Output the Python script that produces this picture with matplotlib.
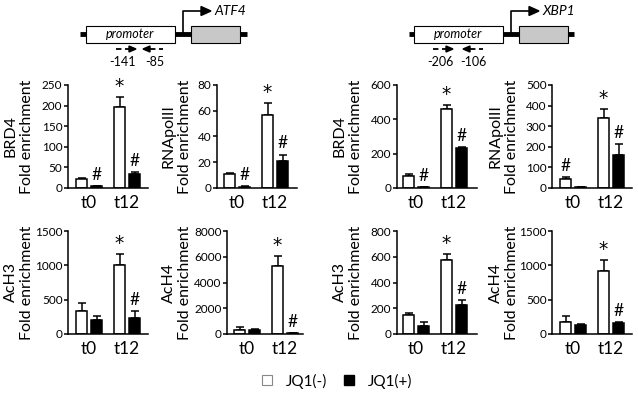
import matplotlib.pyplot as plt
from matplotlib.lines import Line2D
from matplotlib.patches import Rectangle, Polygon

plt.rcParams['font.family'] = ['Lato', 'DejaVu Sans']

W, H = 638, 403

# values: [t0 JQ1(-), t0 JQ1(+), t12 JQ1(-), t12 JQ1(+)]
atf4_brd4 = [23, 4, 197, 35]
atf4_brd4_err = [1, 0.5, 25, 3]
atf4_pol = [10.5, 1, 57, 21]
atf4_pol_err = [1.5, 0.2, 9, 5]
atf4_ach3 = [330, 205, 1000, 230]
atf4_ach3_err = [125, 55, 160, 105]
atf4_ach4 = [300, 330, 5300, 50]
atf4_ach4_err = [250, 40, 750, 50]

xbp1_brd4 = [72, 5, 460, 235]
xbp1_brd4_err = [10, 1, 25, 5]
xbp1_pol = [42, 3, 340, 162]
xbp1_pol_err = [10, 1, 45, 52]
xbp1_ach3 = [150, 65, 575, 228]
xbp1_ach3_err = [10, 30, 45, 38]
xbp1_ach4 = [180, 135, 915, 155]
xbp1_ach4_err = [80, 15, 160, 25]

groups = ['t0', 't12']
legend_labels = ['JQ1(-)', 'JQ1(+)']

# panel: (values, errors, ylabel, yticks, marks, axis x0, first bar, axis x1, y top, y zero, label x)
panels = [
    (atf4_brd4, atf4_brd4_err, 'BRD4', [0, 50, 100, 150, 200, 250],
     [None, '#', '*', '#'], 68, 76, 148, 85, 188, 19),
    (atf4_pol, atf4_pol_err, 'RNApolII', [0, 20, 40, 60, 80],
     [None, '#', '*', '#'], 217, 224, 297, 85, 188, 177),
    (xbp1_brd4, xbp1_brd4_err, 'BRD4', [0, 200, 400, 600],
     [None, '#', '*', '#'], 397, 403, 477, 85, 188, 348),
    (xbp1_pol, xbp1_pol_err, 'RNApolII', [0, 100, 200, 300, 400, 500],
     ['#', None, '*', '#'], 552, 560, 632, 85, 188, 504),
    (atf4_ach3, atf4_ach3_err, 'AcH3', [0, 500, 1000, 1500],
     [None, None, '*', '#'], 68, 76, 148, 231, 334, 19),
    (atf4_ach4, atf4_ach4_err, 'AcH4', [0, 2000, 4000, 6000, 8000],
     [None, None, '*', '#'], 227, 234, 303, 231, 334, 177),
    (xbp1_ach3, xbp1_ach3_err, 'AcH3', [0, 200, 400, 600, 800],
     [None, None, '*', '#'], 397, 403, 477, 231, 334, 348),
    (xbp1_ach4, xbp1_ach4_err, 'AcH4', [0, 500, 1000, 1500],
     [None, None, '*', '#'], 552, 560, 632, 231, 334, 504),
]

fig = plt.figure(figsize=(W / 100, H / 100), dpi=100)

# bar layout in pixels from the first bar's left edge
centers = [5.5, 20.5, 43.5, 58.5]
colors = ['white', 'black', 'white', 'black']

for vals, errs, name, yt, marks, x0, xb, x1, ytop, yzero, lx in panels:
    ax = fig.add_axes([x0 / W, 1 - yzero / H, (x1 - x0) / W, (yzero - ytop) / H])
    ax.bar(centers, vals, width=11, color=colors, edgecolor='black', linewidth=1.1, zorder=2)
    for c, v, e in zip(centers, vals, errs):
        ax.errorbar(c, v, yerr=[[0], [e]], color='black', capsize=3, elinewidth=1.1,
                    capthick=1.1, zorder=1)
    ax.set_xlim(x0 - xb, x1 - xb)
    ax.set_ylim(0, yt[-1])
    ax.set_yticks(yt)
    ax.set_xticks([13, 51])
    ax.set_xticklabels(groups, fontsize=12.5)
    ax.tick_params(axis='x', length=0, pad=5)
    ax.tick_params(axis='y', length=3, width=1.1, labelsize=8.5, pad=1)
    for s in ['top', 'right']:
        ax.spines[s].set_visible(False)
    ax.spines['left'].set_linewidth(1.1)
    ax.spines['bottom'].set_linewidth(1.1)
    span = yt[-1]
    for c, v, e, m in zip(centers, vals, errs, marks):
        if m == '*':
            ax.text(c, v + e + span * 0.01, m, ha='center', va='bottom', fontsize=13.5,
                    family='DejaVu Sans')
        elif m:
            ax.text(c, v + e + span * 0.03, m, ha='center', va='bottom', fontsize=12.5)
    fig.text(lx / W, 1 - ((ytop + yzero) / 2) / H, name + '\nFold enrichment',
             rotation=90, ha='center', va='center', fontsize=11.5, linespacing=1.25)

# gene diagrams on top, drawn in pixel coordinates
dg = fig.add_axes([0, 0, 1, 1])
dg.set_xlim(0, W)
dg.set_ylim(H, 0)
dg.axis('off')


def gene(bl0, bl1, p0, p1, g0, g1, tss, name, fwd, rev, lab1, lab2, lx1, lx2):
    dg.plot([bl0, bl1], [34, 34], color='black', lw=3.5, solid_capstyle='butt', zorder=0)
    dg.add_patch(Rectangle((p0, 26), p1 - p0, 17, facecolor='white', edgecolor='black',
                           lw=0.8, zorder=1))
    dg.add_patch(Rectangle((g0, 26), g1 - g0, 17, facecolor='#c8c8c8', edgecolor='black',
                           lw=0.8, zorder=1))
    dg.text((p0 + p1) / 2, 34, 'promoter', style='italic', fontsize=9, ha='center',
            va='center', zorder=3)
    dg.plot([tss, tss, tss + 19], [34, 11, 11], color='black', lw=1.2)
    dg.add_patch(Polygon([(tss + 18, 6.5), (tss + 28, 11), (tss + 18, 15.5)], color='black'))
    dg.text(tss + 31, 11, name, style='italic', fontsize=10, ha='left', va='center')
    dg.plot([fwd, fwd + 13], [49, 49], color='black', lw=1.3, ls=(0, (3, 2)))
    dg.add_patch(Polygon([(fwd + 13, 46), (fwd + 20, 49), (fwd + 13, 52)], color='black'))
    dg.plot([rev - 13, rev], [49, 49], color='black', lw=1.3, ls=(0, (3, 2)))
    dg.add_patch(Polygon([(rev - 13, 46), (rev - 20, 49), (rev - 13, 52)], color='black'))
    dg.text(lx1, 62, lab1, fontsize=9, ha='center', va='center')
    dg.text(lx2, 62, lab2, fontsize=9, ha='center', va='center')


gene(80, 247, 86, 175, 191, 240, 183, 'ATF4', 116, 163, '-141', '-85', 122, 155)
gene(409, 574, 414, 503, 519, 568, 511, 'XBP1', 433, 483, '-206', '-106', 440, 473)

handles = [Line2D([], [], ls='none', marker='s', markersize=6.5, markerfacecolor='white',
                  markeredgecolor='#888888', markeredgewidth=0.8),
           Line2D([], [], ls='none', marker='s', markersize=6.5, markerfacecolor='black',
                  markeredgecolor='black')]
fig.legend(handles, legend_labels, loc='center', bbox_to_anchor=(337 / W, 1 - 381 / H),
           ncol=2, frameon=False, fontsize=11, handletextpad=0.9, columnspacing=1.1,
           handlelength=0.7)

fig.savefig('out.png', dpi=100)
